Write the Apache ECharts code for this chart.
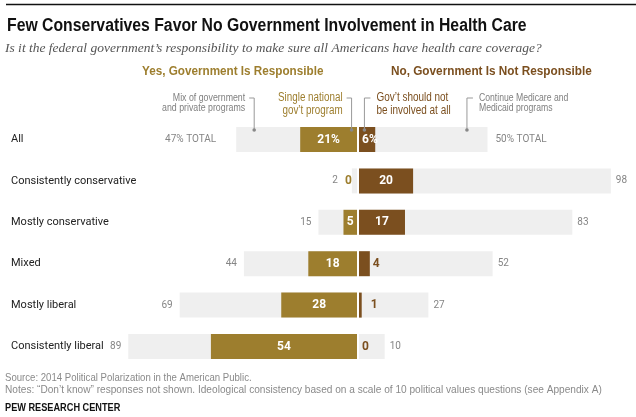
<!DOCTYPE html>
<html>
<head>
<meta charset="utf-8">
<script src="https://cdn.jsdelivr.net/npm/echarts@6/dist/echarts.min.js"></script>
<style>
html,body{margin:0;padding:0;background:#fff;}
#c{width:636px;height:417px;}
</style>
</head>
<body>
<div id="c"></div>
<script>
// ---- data ----
const categories = ['All', 'Consistently conservative', 'Mostly conservative', 'Mixed', 'Mostly liberal', 'Consistently liberal'];
const yesTotal = [47, 2, 15, 44, 69, 89];          // Yes, government responsible (total)
const singleProgram = [21, 0, 5, 18, 28, 54];      // Single national gov't program
const notInvolved = [6, 20, 17, 4, 1, 0];          // Gov't should not be involved at all
const noTotal = [50, 98, 83, 52, 27, 10];          // No, government not responsible (total)

const SANS = 'Roboto,"Liberation Sans",Arial,sans-serif';
const GOLD = '#9d7e2e';
const BROWN = '#7b4f1f';
const GRAYBAR = '#efefef';
const GRAYTXT = '#858585';

const chart = echarts.init(document.getElementById('c'), null, {renderer: 'canvas'});

const gridTop = 118.8, gridH = 248.4;

function grayLabel(side) {
  return {
    show: true, position: side, color: GRAYTXT, fontFamily: SANS, fontSize: 10,
    formatter: p => p.dataIndex === 0 ? p.value + '% TOTAL' : String(p.value)
  };
}

const yesData = yesTotal.map((v, i) => ({
  value: v,
  label: {distance: i === 0 ? 20 : (singleProgram[i] < 5 ? 14 : 7)}
}));
const noData = noTotal.map((v, i) => ({
  value: v,
  label: {distance: i === 0 ? 8 : 5}
}));
const singleData = singleProgram.map((v, i) => v < 5
  ? {value: v, label: {position: 'left', color: GOLD, distance: 5}}
  : {value: v});
const notData = notInvolved.map((v, i) => v < 5
  ? {value: v, label: {position: 'right', color: BROWN, distance: v === 1 ? 9 : 3}}
  : (i === 0 ? {value: v, label: {position: 'insideLeft', distance: 3}} : {value: v}));

const pctFmt = p => p.dataIndex === 0 ? p.value + '%' : String(p.value);

const option = {
  animation: false,
  grid: [
    {left: 100, right: 636 - 357, top: gridTop, height: gridH},
    {left: 359, right: 20, top: gridTop, height: gridH}
  ],
  xAxis: [
    {gridIndex: 0, type: 'value', min: 0, max: 100, inverse: true, show: false},
    {gridIndex: 0, type: 'value', min: 0, max: 95, inverse: true, show: false},
    {gridIndex: 1, type: 'value', min: 0, max: 100, show: false},
    {gridIndex: 1, type: 'value', min: 0, max: 95, show: false}
  ],
  yAxis: [
    {gridIndex: 0, type: 'category', data: categories, inverse: true,
      axisLine: {show: false}, axisTick: {show: false}, splitLine: {show: false},
      axisLabel: {align: 'left', margin: 89, color: '#222', fontFamily: SANS, fontSize: 11}},
    {gridIndex: 0, type: 'category', data: categories, inverse: true, show: false},
    {gridIndex: 1, type: 'category', data: categories, inverse: true, show: false},
    {gridIndex: 1, type: 'category', data: categories, inverse: true, show: false}
  ],
  series: [
    {name: 'Yes total', type: 'bar', xAxisIndex: 0, yAxisIndex: 0, barWidth: 25, z: 1,
      itemStyle: {color: GRAYBAR}, label: grayLabel('left'), data: yesData},
    {name: 'Single national gov\u2019t program', type: 'bar', xAxisIndex: 1, yAxisIndex: 1, barWidth: 25, z: 3,
      itemStyle: {color: GOLD},
      label: {show: true, position: 'inside', color: '#fff', fontWeight: 'bold', fontFamily: SANS, fontSize: 12, formatter: pctFmt},
      data: singleData},
    {name: 'No total', type: 'bar', xAxisIndex: 2, yAxisIndex: 2, barWidth: 25, z: 1,
      itemStyle: {color: GRAYBAR}, label: grayLabel('right'), data: noData},
    {name: 'Gov\u2019t should not be involved at all', type: 'bar', xAxisIndex: 3, yAxisIndex: 3, barWidth: 25, z: 3,
      itemStyle: {color: BROWN},
      label: {show: true, position: 'inside', color: '#fff', fontWeight: 'bold', fontFamily: SANS, fontSize: 12, formatter: pctFmt},
      data: notData}
  ]
};
chart.setOption(option);

// ---- text & annotations ----
function txt(x, y, text, style, sx) {
  return {type: 'text', x: x, y: y, scaleX: sx || 1, silent: true,
    style: Object.assign({text: text, fontFamily: '"Liberation Sans",Arial,sans-serif', fontSize: 12, fill: '#222', verticalAlign: 'middle', align: 'left'}, style)};
}
const g = [];
g.push({type: 'line', shape: {x1: 6, y1: 4.5, x2: 636, y2: 4.5}, style: {stroke: '#111', lineWidth: 1.5}, silent: true});
g.push(txt(7, 26, 'Few Conservatives Favor No Government Involvement in Health Care', {fontSize: 18, fontWeight: 'bold', fill: '#111'}, 0.876));
g.push(txt(5, 48, 'Is it the federal government\u2019s responsibility to make sure all Americans have health care coverage?',
  {fontFamily: '"Liberation Serif","DejaVu Serif",serif', fontStyle: 'italic', fontSize: 13.5, fill: '#555'}));
g.push(txt(142, 71, 'Yes, Government Is Responsible', {fontSize: 13, fontWeight: 'bold', fill: GOLD}, 0.90));
g.push(txt(391, 71, 'No, Government Is Not Responsible', {fontSize: 13, fontWeight: 'bold', fill: BROWN}, 0.905));
g.push(txt(5, 378, 'Source: 2014 Political Polarization in the American Public.', {fontSize: 11, fill: '#8a8a8a'}, 0.873));
g.push(txt(5, 390, 'Notes: \u201cDon\u2019t know\u201d responses not shown. Ideological consistency based on a scale of 10 political values questions (see Appendix A)', {fontSize: 11, fill: '#8a8a8a'}, 0.92));
g.push(txt(5, 408, 'PEW RESEARCH CENTER', {fontSize: 11, fontWeight: 'bold', fill: '#111'}, 0.835));

// annotation anchors on the "All" row, in axis units
const annotations = [
  {x: 0, y: 0, value: 40, lines: ['Mix of government', 'and private programs'], color: '#808080', size: 10, side: 'left', lh: 10.5, sx: 0.88},
  {x: 1, y: 1, value: 2, lines: ['Single national', 'gov\u2019t program'], color: GOLD, size: 12, side: 'left', lh: 12.5, sx: 0.82},
  {x: 3, y: 3, value: 2, lines: ['Gov\u2019t should not', 'be involved at all'], color: BROWN, size: 12, side: 'right', lh: 13, sx: 0.83},
  {x: 2, y: 2, value: 42, lines: ['Continue Medicare and', 'Medicaid programs'], color: '#808080', size: 10, side: 'right', lh: 10.5, sx: 0.865}
];
annotations.forEach(a => {
  const p = chart.convertToPixel({xAxisIndex: a.x, yAxisIndex: a.y}, [a.value, categories[0]]);
  const dx = p[0], dy = p[1] - 9.5, ty = 98;
  const hx = a.side === 'left' ? dx - 5 : dx + 6;
  g.push({type: 'polyline', shape: {points: [[hx, ty], [dx, ty], [dx, dy]]}, style: {stroke: '#999', lineWidth: 1, fill: null}, silent: true, z: 10});
  g.push({type: 'circle', shape: {cx: dx, cy: dy, r: 1.8}, style: {fill: '#888'}, silent: true, z: 11});
  const tx = a.side === 'left' ? dx - 9 : dx + 12;
  a.lines.forEach((l, k) => g.push(txt(tx, ty + k * a.lh, l, {fontSize: a.size, fill: a.color, align: a.side === 'left' ? 'right' : 'left'}, a.sx)));
});
chart.setOption({graphic: g});
</script>
</body>
</html>
